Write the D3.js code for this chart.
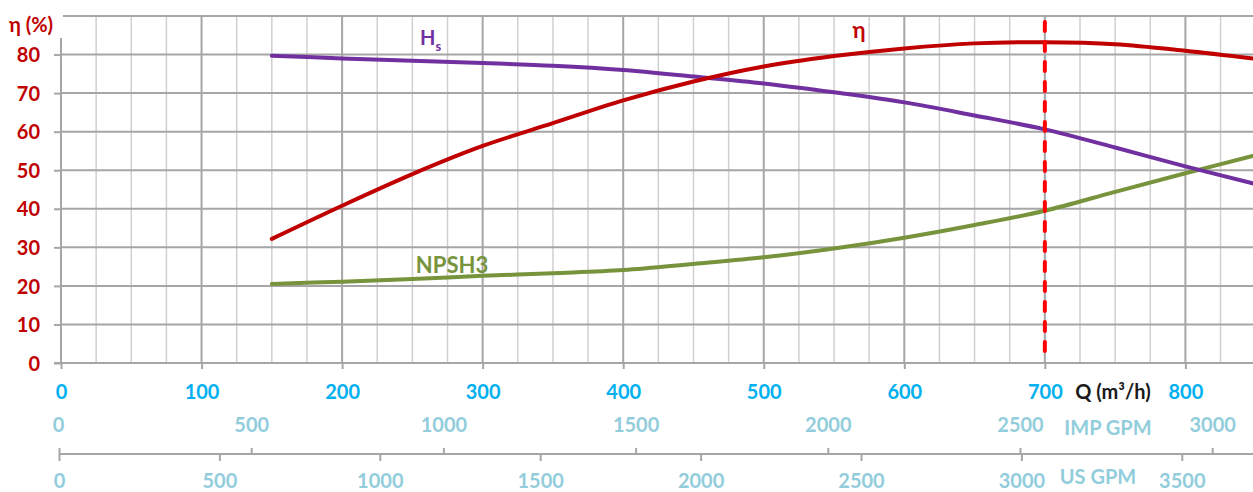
<!DOCTYPE html>
<html>
<head>
<meta charset="utf-8">
<script src="https://cdn.jsdelivr.net/npm/d3@7"></script>
<style>
  body { margin: 0; background: #fff; }
  svg text { font-family: Lato, "Open Sans", "DejaVu Sans", sans-serif; font-weight: 700; }
</style>
</head>
<body>
<script>
// flow (m3/h) where the curves were read
var flowQ = [150, 200, 250, 300, 350, 400, 450, 500, 550, 600, 650, 700, 750, 800, 850];
var etaVals = [32.2, 40.8, 49.0, 56.3, 62.2, 68.1, 73.0, 76.9, 79.6, 81.6, 82.9, 83.2, 82.7, 81.0, 78.9];
var hsVals = [79.7, 79.0, 78.4, 77.8, 77.1, 76.0, 74.3, 72.5, 70.2, 67.6, 64.2, 60.6, 55.9, 51.0, 46.4];
var npshVals = [20.5, 21.1, 21.8, 22.6, 23.3, 24.1, 25.7, 27.4, 29.7, 32.5, 35.8, 39.5, 44.4, 49.2, 53.9];
var dutyQ = 700;

var qTicks = [0, 100, 200, 300, 400, 500, 600, 700, 800];
var yTicks = [0, 10, 20, 30, 40, 50, 60, 70, 80];
var impTicks = [0, 500, 1000, 1500, 2000, 2500, 3000];
var usTicks = [0, 500, 1000, 1500, 2000, 2500, 3000, 3500];

var width = 1253, height = 492;
var svg = d3.select("body").append("svg").attr("width", width).attr("height", height);

var x = d3.scaleLinear().domain([0, 850]).range([61, 61 + 850 * 1.4055]);
var y = d3.scaleLinear().domain([0, 90]).range([363, 16]);
var imp = d3.scaleLinear().domain([0, 3000]).range([59, 59 + 3000 * 0.3844]);
var us = d3.scaleLinear().domain([0, 3500]).range([59, 59 + 3500 * 0.3208]);
var fmt = d3.format("d");

// grid
var minorQ = d3.range(25, 851, 25);
svg.append("g").selectAll("line").data(minorQ).enter().append("line")
  .attr("x1", function (d) { return x(d); }).attr("x2", function (d) { return x(d); })
  .attr("y1", y(90)).attr("y2", y(0))
  .attr("stroke", function (d) { return d % 100 == 0 ? "#a6a6a6" : "#d0d0d0"; })
  .attr("stroke-width", function (d) { return d % 100 == 0 ? 2 : 1.5; });

svg.append("g").selectAll("line").data(d3.range(10, 91, 10)).enter().append("line")
  .attr("x1", function (d) { return d == 90 ? x(0) + 2 : x(0); }).attr("x2", width)
  .attr("y1", function (d) { return y(d); }).attr("y2", function (d) { return y(d); })
  .attr("stroke", "#a6a6a6").attr("stroke-width", 2);

// y axis
var yAx = svg.append("g").attr("transform", "translate(" + x(0) + ",0)")
  .call(d3.axisLeft(y).tickValues(yTicks).tickSize(7).tickPadding(14));
yAx.select(".domain").remove();
yAx.selectAll("line").attr("stroke", "#a6a6a6").attr("stroke-width", 2);
yAx.selectAll("text").attr("fill", "#c00000").style("font-size", "20px").attr("dy", "0.36em");
svg.append("line").attr("x1", x(0)).attr("x2", x(0)).attr("y1", y(90) + 22).attr("y2", y(0))
  .attr("stroke", "#a6a6a6").attr("stroke-width", 2);
svg.append("text").attr("x", 31).attr("y", 25).attr("text-anchor", "middle").attr("dy", "0.36em")
  .attr("fill", "#c00000").style("font-size", "20px").text("η (%)");

// Q axis
var qAx = svg.append("g").attr("transform", "translate(0," + y(0) + ")")
  .call(d3.axisBottom(x).tickValues(qTicks).tickFormat(fmt).tickSize(6).tickSizeOuter(0));
qAx.select(".domain").remove();
svg.append("line").attr("x1", x(0) - 7).attr("x2", width).attr("y1", y(0)).attr("y2", y(0))
  .attr("stroke", "#a6a6a6").attr("stroke-width", 2);
qAx.selectAll("line").attr("stroke", "#a6a6a6").attr("stroke-width", 2);
qAx.selectAll("text").attr("y", 29).attr("dy", "0.36em").attr("fill", "#00b0f0").style("font-size", "20px");
svg.append("text").attr("x", 1113).attr("y", 392).attr("dy", "0.36em").attr("text-anchor", "middle")
  .attr("fill", "#1a1a1a").style("font-size", "20px").text("Q (m³/h)");

// GPM axes
var gpmY = 454;
svg.append("line").attr("x1", us(0)).attr("x2", width).attr("y1", gpmY).attr("y2", gpmY)
  .attr("stroke", "#a6a6a6").attr("stroke-width", 2);
var impAx = svg.append("g").attr("transform", "translate(0," + gpmY + ")")
  .call(d3.axisTop(imp).tickValues(impTicks).tickFormat(fmt).tickSize(6).tickSizeOuter(0));
impAx.select(".domain").remove();
impAx.selectAll("line").attr("stroke", "#a6a6a6").attr("stroke-width", 2);
impAx.selectAll("text").attr("y", -29).attr("dy", "0.36em").attr("fill", "#92cddc").style("font-size", "20px");
impAx.selectAll(".tick").filter(function (d) { return d == 0; }).select("text").attr("dx", -1);

var usAx = svg.append("g").attr("transform", "translate(0," + gpmY + ")")
  .call(d3.axisBottom(us).tickValues(usTicks).tickFormat(fmt).tickSize(7).tickSizeOuter(0));
usAx.select(".domain").remove();
usAx.selectAll("line").attr("stroke", "#a6a6a6").attr("stroke-width", 2);
usAx.selectAll("text").attr("y", 27).attr("dy", "0.36em").attr("fill", "#92cddc").style("font-size", "20px");

svg.append("text").attr("x", 1108).attr("y", 428).attr("dy", "0.36em").attr("text-anchor", "middle")
  .attr("fill", "#92cddc").style("font-size", "20px").text("IMP GPM");
svg.append("text").attr("x", 1098).attr("y", 477).attr("dy", "0.36em").attr("text-anchor", "middle")
  .attr("fill", "#92cddc").style("font-size", "20px").text("US GPM");

// curves
var series = [
  { vals: npshVals, color: "#77933c" },
  { vals: hsVals, color: "#7030a0" },
  { vals: etaVals, color: "#c00000" }
];
series.forEach(function (s) {
  var line = d3.line()
    .x(function (d, i) { return x(flowQ[i]); })
    .y(function (d) { return y(d); })
    .curve(d3.curveCatmullRom.alpha(0.5));
  svg.append("path").attr("d", line(s.vals)).attr("fill", "none")
    .attr("stroke", s.color).attr("stroke-width", 4).attr("stroke-linecap", "round");
});

// duty point
svg.append("line").attr("x1", x(dutyQ)).attr("x2", x(dutyQ)).attr("y1", y(90) + 6).attr("y2", y(0) - 2)
  .attr("stroke", "#ff0000").attr("stroke-width", 4).attr("stroke-linecap", "round")
  .attr("stroke-dasharray", "9,11");

// curve labels
var hs = svg.append("text").attr("x", 420).attr("y", 45).attr("fill", "#7030a0").style("font-size", "20px");
hs.append("tspan").text("H");
hs.append("tspan").attr("dy", 6).style("font-size", "13px").text("s");
svg.append("text").attr("x", 859).attr("y", 38).attr("text-anchor", "middle")
  .attr("fill", "#c00000").style("font-size", "22px").text("η");
svg.append("text").attr("x", 452).attr("y", 265).attr("dy", "0.36em").attr("text-anchor", "middle")
  .attr("fill", "#77933c").style("font-size", "22px").text("NPSH3");
</script>
</body>
</html>
